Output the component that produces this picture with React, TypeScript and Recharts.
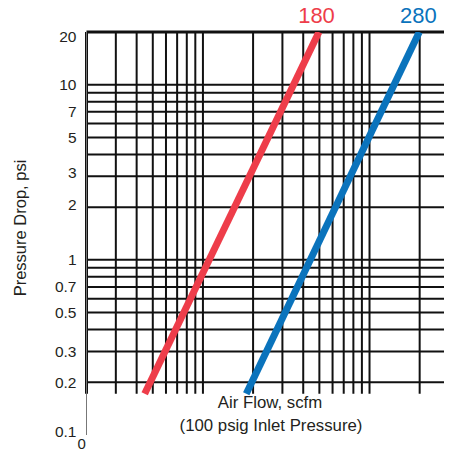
import React from "react";
import { ComposedChart, Line, XAxis, YAxis, ReferenceLine } from "recharts";

// Air flow (scfm) gridlines on log axis
const flowDomain = [2, 300];
const flowGrid = [3, 4, 5, 6, 7, 8, 9, 10, 20, 30, 40, 50, 60, 70, 80, 90, 100, 200];
// Pressure drop (psi) gridlines and tick labels
const pressureDomain = [0.1, 20];
const pressureGrid = [10, 9, 8, 7, 6, 5, 4, 3, 2, 1, 0.9, 0.8, 0.7, 0.6, 0.5, 0.4, 0.3, 0.2];
const pressureTicks = [0.1, 0.2, 0.3, 0.5, 0.7, 1, 2, 3, 5, 7, 10, 20];
const gridBottom = 0.172;
// Series
const series180 = [
  { flow: 4.47, drop: 0.172 },
  { flow: 49.7, drop: 20 },
];
const series280 = [
  { flow: 18.2, drop: 0.172 },
  { flow: 199, drop: 20 },
];

const RED = "#EE3D4A";
const BLUE = "#0A73BC";
const FONT = "'Liberation Sans', Arial, sans-serif";
const INK = "#231F20";

// small label nudges seen in the original artwork
const tickNudge: Record<string, number> = { "20": 4.5, "3": -4, "2": -2.5, "0.1": -4 };

function YTick(props: any) {
  const { x, y, payload } = props;
  const label = String(payload.value);
  const dy = tickNudge[label] || 0;
  return (
    <text
      x={x}
      y={y + dy}
      textAnchor="end"
      dominantBaseline="central"
      fontSize={15.5}
      fontFamily={FONT}
      fill={INK}
    >
      {label}
    </text>
  );
}

export default function App() {
  const W = 444;
  const H = 444;
  return (
    <div style={{ position: "relative", width: W, height: H }}>
      <ComposedChart
        width={W}
        height={H}
        margin={{ top: 24, right: 3, bottom: 17, left: 18.5 }}
      >
        <XAxis
          type="number"
          dataKey="flow"
          scale="log"
          domain={flowDomain}
          allowDataOverflow
          hide
          height={0}
        />
        <YAxis
          type="number"
          dataKey="drop"
          scale="log"
          domain={pressureDomain}
          allowDataOverflow
          ticks={pressureTicks}
          width={60}
          tickLine={false}
          tickMargin={4}
          axisLine={{ stroke: "#777", strokeWidth: 1 }}
          tick={<YTick />}
          interval={0}
        />
        {pressureGrid.map((p) => (
          <ReferenceLine key={"h" + p} y={p} stroke="#111" strokeWidth={2} />
        ))}
        {flowGrid.map((f) => (
          <ReferenceLine
            key={"v" + f}
            segment={[
              { x: f, y: gridBottom },
              { x: f, y: 20 },
            ]}
            stroke="#111"
            strokeWidth={2}
          />
        ))}
        <ReferenceLine
          segment={[
            { x: 300, y: gridBottom },
            { x: 300, y: 20 },
          ]}
          stroke="#111"
          strokeWidth={2.5}
        />
        <ReferenceLine
          segment={[
            { x: 2, y: gridBottom },
            { x: 2, y: 20 },
          ]}
          stroke="#111"
          strokeWidth={3}
        />
        <ReferenceLine y={20} stroke="#111" strokeWidth={3} />
        <Line
          data={series180}
          dataKey="drop"
          type="linear"
          dot={false}
          activeDot={false}
          stroke={RED}
          strokeWidth={7}
          isAnimationActive={false}
        />
        <Line
          data={series280}
          dataKey="drop"
          type="linear"
          dot={false}
          activeDot={false}
          stroke={BLUE}
          strokeWidth={7}
          isAnimationActive={false}
        />
      </ComposedChart>
      <svg
        width={W}
        height={H}
        style={{ position: "absolute", left: 0, top: 0, pointerEvents: "none", overflow: "visible" }}
        fontFamily={FONT}
      >
        <text x={308.5} y={15.3} textAnchor="middle" fontSize={22} fill={RED}>
          180
        </text>
        <text x={410.3} y={15.3} textAnchor="middle" fontSize={22} fill={BLUE}>
          280
        </text>
        <text x={262} y={400.4} textAnchor="middle" fontSize={16.8} fill={INK}>
          Air Flow, scfm
        </text>
        <text x={263} y={423} textAnchor="middle" fontSize={16.8} fill={INK}>
          (100 psig Inlet Pressure)
        </text>
        <text x={73.7} y={440.5} textAnchor="middle" fontSize={15} fill={INK}>
          0
        </text>
        <text
          x={12}
          y={220}
          textAnchor="middle"
          dominantBaseline="central"
          fontSize={16.5}
          fill={INK}
          transform="rotate(-90 12 220)"
        >
          Pressure Drop, psi
        </text>
      </svg>
    </div>
  );
}
